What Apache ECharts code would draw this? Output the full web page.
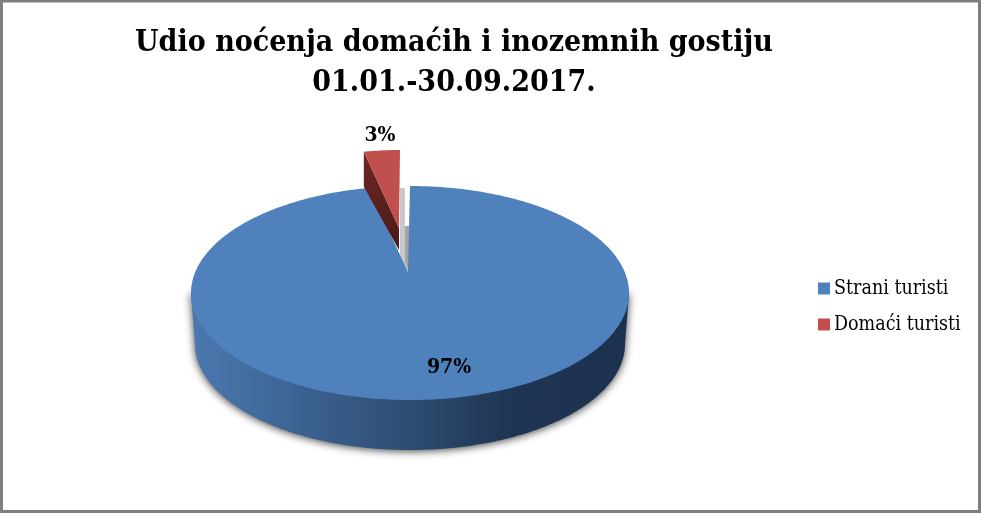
<!DOCTYPE html>
<html><head><meta charset="utf-8">
<style>html,body{margin:0;padding:0;background:#fff}#c{width:982px;height:513px}</style>
<script src="https://cdn.jsdelivr.net/npm/echarts@6/dist/echarts.min.js"></script>
</head><body><div id="c"></div>
<script>
const titleLines = ['Udio noćenja domaćih i inozemnih gostiju', '01.01.-30.09.2017.'];
const categories = ['Strani turisti', 'Domaći turisti'];
const values = [97, 3];
const colors = ['#4f81bd', '#c0504d'];
const FONT = '"DejaVu Serif Condensed","DejaVu Serif",serif';

const total = values.reduce((a, b) => a + b, 0);
// ellipse helpers: angle 0 at the top, clockwise
const pt = (e, a) => [e.cx + e.rx * Math.sin(a), e.cy - e.ry * Math.cos(a)];
const arc = (e, a0, a1, n) => {
  const out = [];
  for (let i = 0; i <= n; i++) out.push(pt(e, a0 + (a1 - a0) * i / n));
  return out;
};
const TOP = {cx: 410, cy: 293, rx: 219, ry: 107};
const BOT = {cx: 410, cy: 344, rx: 215, ry: 106};
const APEX = [408, 272];
const RED = {cx: 400, cy: 244, rx: 193, ry: 94};
const RED_APEX = [399, 228];
const RED_DROP = 35;

function renderBlue(params, api) {
  const span = api.value(0) / total * Math.PI * 2;
  const wallPts = [pt(TOP, Math.PI / 2)].concat(arc(BOT, Math.PI / 2, Math.PI * 1.5, 240), [pt(TOP, Math.PI * 1.5)]);
  const facePts = [APEX].concat(arc(TOP, 0, span, 480));
  const wallGrad = new echarts.graphic.LinearGradient(0, 0, 1, 0, [
    {offset: 0, color: '#4a79b0'},
    {offset: 0.22, color: '#3d6595'},
    {offset: 0.5, color: '#2e4c72'},
    {offset: 0.72, color: '#1f3654'},
    {offset: 1, color: '#1c314e'}
  ]);
  return {type: 'group', children: [
    {type: 'polygon', shape: {points: wallPts},
      style: {fill: wallGrad, shadowBlur: 8, shadowColor: 'rgba(50,50,50,0.95)', shadowOffsetY: 1}},
    {type: 'polygon', shape: {points: [[400, 188], [405, 188], [405, 226], [409, 226], [409, 187], [409, APEX[1]], [APEX[0], APEX[1]], [400, 258]]},
      style: {fill: '#c9c9cb'}},
    {type: 'polygon', shape: {points: [[405, 226], [409, 226], [409, APEX[1]], [405, 262]]},
      style: {fill: '#a3a3a3'}},
    {type: 'polygon', shape: {points: [[405, 188], [409, 188], [409, 226], [405, 226]]},
      style: {fill: '#ffffff'}},
    {type: 'polygon', shape: {points: facePts}, style: {fill: colors[0]}},
    {type: 'text', style: {text: Math.round(api.value(0) / total * 100) + '%', x: 449, y: 368,
      align: 'center', verticalAlign: 'middle', fill: '#000', font: 'bold 21px ' + FONT}}
  ]};
}
function renderRed(params, api) {
  const span = api.value(0) / total * Math.PI * 2;
  const rim = arc(RED, Math.PI * 2 - span, Math.PI * 2, 24);
  const left = rim[0];
  const wallPts = [left, [left[0], left[1] + RED_DROP], [RED_APEX[0], RED_APEX[1] + 22], RED_APEX];
  const wallGrad = new echarts.graphic.LinearGradient(0, 0, 0, 1, [
    {offset: 0, color: '#6d2725'}, {offset: 1, color: '#4a1a19'}
  ]);
  return {type: 'group', children: [
    {type: 'polygon', shape: {points: wallPts}, style: {fill: wallGrad}},
    {type: 'polygon', shape: {points: [RED_APEX].concat(rim)}, style: {fill: colors[1]}},
    {type: 'text', style: {text: Math.round(api.value(0) / total * 100) + '%', x: 380, y: 136,
      align: 'center', verticalAlign: 'middle', fill: '#000', font: 'bold 21px ' + FONT}}
  ]};
}

const chart = echarts.init(document.getElementById('c'), null, {renderer: 'canvas'});
chart.setOption({
  animation: false,
  backgroundColor: '#fff',
  title: {
    text: titleLines.join('\n'), left: 449, top: 18, textAlign: 'center',
    textStyle: {fontFamily: FONT, fontWeight: 'bold', fontSize: 30, lineHeight: 40, color: '#000'}
  },
  legend: {
    orient: 'vertical', left: 813, top: 272, icon: 'rect', itemWidth: 12, itemHeight: 12,
    itemGap: 13, data: categories,
    textStyle: {fontFamily: FONT, fontSize: 19.5, color: '#000', padding: [3, 0, 0, -1], lineHeight: 20}
  },
  graphic: [{type: 'rect', shape: {x: 1.5, y: 1, width: 978, height: 510.5}, silent: true,
    style: {fill: 'none', stroke: '#7f7f7f', lineWidth: 3}, z: 100}],
  series: [
    {type: 'custom', name: categories[0], coordinateSystem: 'none', renderItem: renderBlue,
      data: [[values[0]]], itemStyle: {color: colors[0]}, z: 2},
    {type: 'custom', name: categories[1], coordinateSystem: 'none', renderItem: renderRed,
      data: [[values[1]]], itemStyle: {color: colors[1]}, z: 3}
  ]
});
</script></body></html>
